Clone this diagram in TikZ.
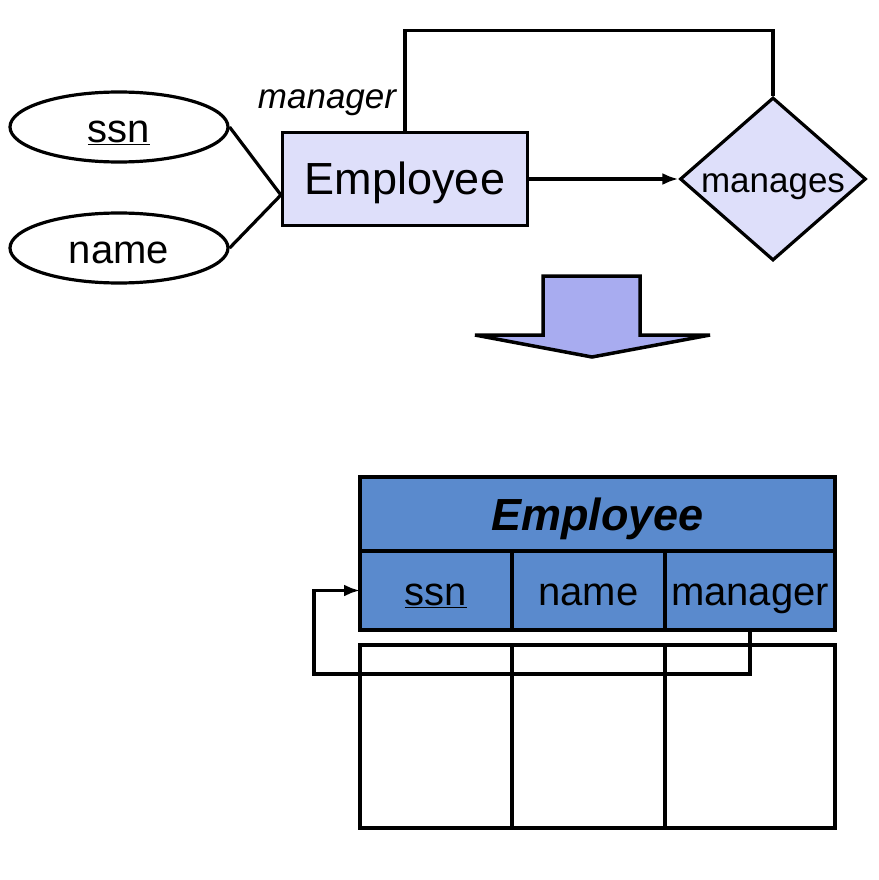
\documentclass[tikz,border=0pt]{standalone}
\usepackage{fontspec}
\setmainfont{Liberation Sans}
\usepackage{tikz}
\usetikzlibrary{positioning,shapes.geometric,arrows.meta}

\definecolor{erfill}{RGB}{222,223,250}
\definecolor{tabfill}{RGB}{90,138,205}
\definecolor{bigfill}{RGB}{168,172,240}

\begin{document}
\begin{tikzpicture}[x=1pt, y=-1pt, line width=3.2pt]

\tikzstyle{every node}=[font=\fontsize{40}{48}\selectfont]
\tikzstyle{attr}=[draw, ellipse, minimum width=218, minimum height=70, inner sep=0, text height=31pt, text depth=0pt]
\tikzstyle{entity}=[draw, fill=erfill, minimum width=245, minimum height=93, text height=40pt, text depth=9pt]
\tikzstyle{rel}=[draw, diamond, fill=erfill, minimum width=186, minimum height=163, inner sep=0]
\tikzstyle{cell}=[draw, fill=tabfill, anchor=north west, outer sep=0, inner sep=2pt, text height=35pt, text depth=6pt]
\tikzstyle{emptycell}=[draw, anchor=north west, outer sep=0, minimum height=183]
\tikzstyle{tip}=[-{Latex[length=16pt, width=12pt]}]

\useasboundingbox (0,0) rectangle (878,880);

% ER part %
\node[attr] (ssn) at (119,127) {\underline{ssn}};
\node[attr] (name) at (119,248) {name};
\node[entity, font=\fontsize{45}{54}\selectfont] (emp) at (405,179) {Employee};
\node[rel, label={[font=\fontsize{35}{42}\selectfont, yshift=-8pt]center:manages}] (mng) at (773,179) {};
\node[left, font=\fontsize{35}{42}\selectfont\itshape] (role) at (401,103) {manager};

\coordinate (empin) at ([yshift=-16pt]emp.west);
\draw (ssn.east) -- (empin);
\draw (name.east) -- (empin);
\draw (emp.north) |- ([yshift=65pt]mng.north) -- (mng.north);
\draw[tip] (emp.east) -- (mng.west);

% big arrow %
\draw[fill=bigfill, line width=3.5pt] (543,276) -- (640,276) -- (640,335) -- (710,335)
  -- (592,357) -- (475,335) -- (543,335) -- cycle;

% table %
\node[cell, minimum width=475, minimum height=74, text height=40pt, text depth=8pt,
  font=\fontsize{45}{54}\selectfont\bfseries\itshape] (thead) at (360,477) {Employee};
\node[cell, minimum width=152, minimum height=79] (tssn) at (thead.south west) {\underline{ssn}};
\node[cell, minimum width=153, minimum height=79] (tname) at (tssn.north east) {name};
\node[cell, minimum width=170, minimum height=79] (tman) at (tname.north east) {manager};

\node[emptycell, minimum width=152] (row1) at (360,645) {};
\node[emptycell, minimum width=153] (row2) at (row1.north east) {};
\node[emptycell, minimum width=170] (row3) at (row2.north east) {};

% foreign key %
\coordinate (fk) at (314,674);
\draw[tip] (tman.south) |- (fk) |- (tssn.west);

\end{tikzpicture}
\end{document}
